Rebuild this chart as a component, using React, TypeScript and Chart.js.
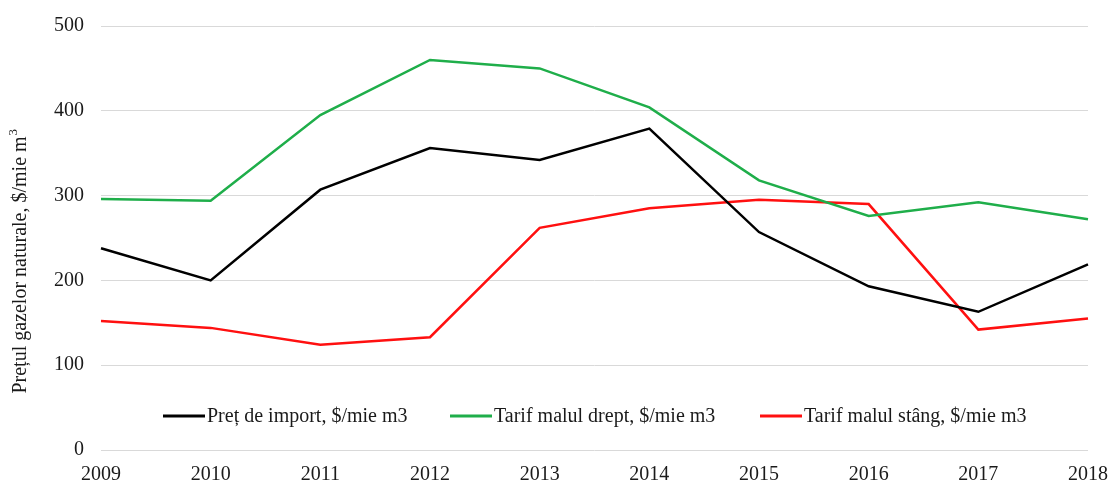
import React, { useEffect, useRef } from "react";
import { Chart, registerables } from "chart.js";

Chart.register(...registerables);

const years = ["2009", "2010", "2011", "2012", "2013", "2014", "2015", "2016", "2017", "2018"];
const importPrice = [238, 200, 307, 356, 342, 379, 257, 193, 163, 219];
const rightBankTariff = [296, 294, 395, 460, 450, 404, 318, 276, 292, 272];
const leftBankTariff = [152, 144, 124, 133, 262, 285, 295, 290, 142, 155];
const seriesNames = [
  "Preț de import, $/mie m3",
  "Tarif malul drept, $/mie m3",
  "Tarif malul stâng, $/mie m3",
];
const yTitle = "Prețul gazelor naturale, $/mie m";
const FONT = "'Liberation Serif', 'Times New Roman', serif";

const customDecor = {
  id: "customDecor",
  afterDraw(chart: any) {
    const ctx = chart.ctx;
    ctx.save();
    // legend
    const ly = 416;
    const items = chart.data.datasets;
    const starts = [163, 450, 760];
    ctx.font = `20px ${FONT}`;
    ctx.textBaseline = "middle";
    ctx.textAlign = "left";
    items.forEach((ds: any, i: number) => {
      const x = starts[i];
      ctx.strokeStyle = ds.borderColor;
      ctx.lineWidth = 3;
      ctx.beginPath();
      ctx.moveTo(x, ly);
      ctx.lineTo(x + 42, ly);
      ctx.stroke();
      ctx.fillStyle = "#1a1a1a";
      ctx.fillText(ds.label, x + 44, ly + 1);
    });
    // y title
    ctx.translate(21, 260);
    ctx.rotate(-Math.PI / 2);
    ctx.font = `20px ${FONT}`;
    ctx.textAlign = "center";
    ctx.textBaseline = "middle";
    const w = ctx.measureText(yTitle).width;
    ctx.fillStyle = "#1a1a1a";
    ctx.fillText(yTitle, -5, 0);
    ctx.font = `13px ${FONT}`;
    ctx.textAlign = "left";
    ctx.fillText("3", -5 + w / 2 + 1, -7);
    ctx.restore();
  },
};

export default function App() {
  const ref = useRef<HTMLCanvasElement>(null);
  useEffect(() => {
    if (!ref.current) return;
    const mk = (label: string, data: number[], color: string) => ({
      label,
      data,
      borderColor: color,
      backgroundColor: color,
      borderWidth: 2.5,
      pointRadius: 0,
      tension: 0,
      fill: false,
    });
    const chart = new Chart(ref.current, {
      type: "line",
      data: {
        labels: years,
        datasets: [
          mk(seriesNames[0], importPrice, "#000000"),
          mk(seriesNames[1], rightBankTariff, "#1fae4a"),
          mk(seriesNames[2], leftBankTariff, "#ff1010"),
        ],
      },
      options: {
        animation: false,
        responsive: false,
        maintainAspectRatio: false,
        layout: { padding: { left: 0, right: 22, top: 26, bottom: 0 } },
        plugins: { legend: { display: false }, tooltip: { enabled: false } },
        scales: {
          x: {
            offset: false,
            grid: { display: false, drawTicks: false },
            border: { display: false },
            ticks: { font: { family: FONT, size: 20 }, color: "#1a1a1a", padding: 13, maxRotation: 0, autoSkip: false },
            afterFit: (s: any) => {
              s.height = 33;
              s.paddingLeft = 0;
              s.paddingRight = 0;
            },
          },
          y: {
            min: 0,
            max: 500,
            grid: { color: "#d9d9d9", drawTicks: false, lineWidth: 1 },
            border: { display: false },
            ticks: { stepSize: 100, font: { family: FONT, size: 20 }, color: "#1a1a1a", padding: 17 },
            afterFit: (s: any) => {
              s.width = 101;
              s.paddingTop = 0;
              s.paddingBottom = 0;
            },
          },
        },
      },
      plugins: [customDecor],
    });
    return () => chart.destroy();
  }, []);
  return (
    <div style={{ position: "fixed", left: 0, top: 0, width: 1110, height: 483, background: "#fff" }}>
      <canvas ref={ref} width={1110} height={483} />
    </div>
  );
}
